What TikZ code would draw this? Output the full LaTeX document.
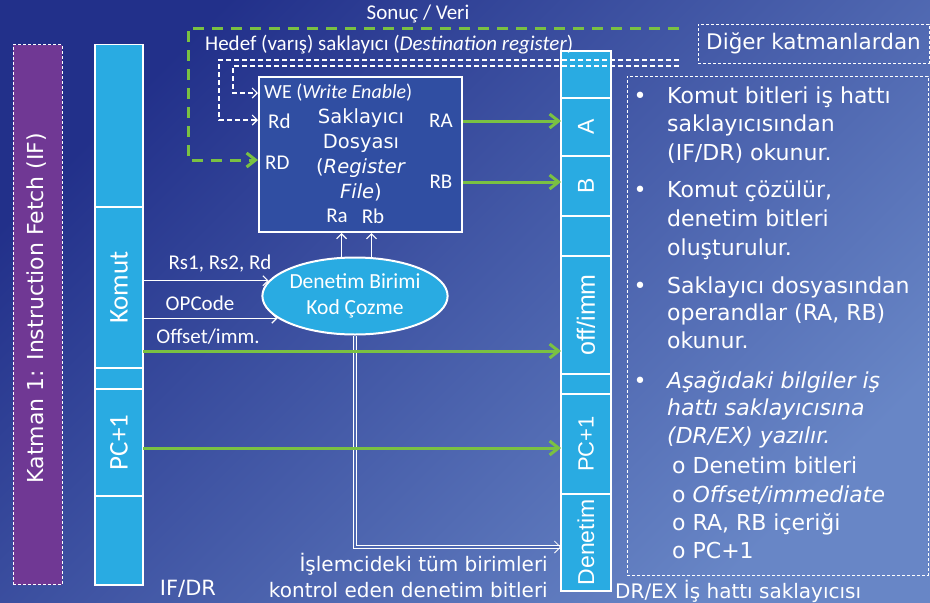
\documentclass[tikz,border=0pt]{standalone}
\usepackage{fontspec}
\setmainfont{Carlito}
\newfontfamily\comic{DejaVu Sans}
\newfontfamily\arialf{Liberation Sans}
\usetikzlibrary{shapes.geometric,arrows.meta,calc}
\definecolor{bgA}{RGB}{34,48,138}
\definecolor{bgB}{RGB}{104,134,198}
\definecolor{bgM}{RGB}{78,104,178}
\definecolor{cyanc}{RGB}{41,171,226}
\definecolor{purp}{RGB}{112,56,148}
\definecolor{grn}{RGB}{122,193,66}
\definecolor{rfill}{RGB}{48,78,162}
\tikzset{
  seg/.style={draw=white, line width=1.4pt, fill=cyanc, minimum width=48pt, inner sep=0pt, outer sep=0pt},
  dseg/.style={seg, minimum width=50pt},
  lbl/.style={text=white, inner sep=0pt, font=\fontsize{21}{25}\selectfont},
  segtxt/.style={text=white, inner sep=0pt, rotate=90, font=\fontsize{27}{30}\selectfont},
  dtxt/.style={text=white, inner sep=0pt, rotate=90, font=\arialf\fontsize{23}{27}\selectfont},
  ctxt/.style={text=white, inner sep=0pt, font=\comic\fontsize{20}{26}\selectfont},
  bul/.style={text=white, inner sep=0pt, anchor=base west, font=\comic\fontsize{22}{28}\selectfont},
  dashbox/.style={draw=white, line width=0.8pt, dash pattern=on 3pt off 2pt},
  garrow/.style={draw=grn, line width=3pt, -{Straight Barb[length=9pt,width=14pt]}},
  gdash/.style={garrow, dash pattern=on 11pt off 8pt},
  warrow/.style={draw=white, line width=1.1pt, -{Straight Barb[length=5pt,width=10pt]}},
  wdash/.style={warrow, dash pattern=on 5pt off 3pt},
  dblarrow/.style={draw=white, line width=0.8pt, double=bgM, double distance=2pt, -{Straight Barb[length=6pt,width=12pt]}}
}
\begin{document}
\begin{tikzpicture}[x=1pt,y=-1pt]
\useasboundingbox (0,0) rectangle (930,603);
\shade[top color=bgA, bottom color=bgB, shading angle=45] (0,0) rectangle (930,603);

% Stage 1 box
\node[dashbox, fill=purp, minimum width=49pt, minimum height=540pt, inner sep=0pt] (ifstage) at (37.5,314.5) {};
\node[text=white, inner sep=0pt, rotate=90, font=\comic\fontsize{22}{26}\selectfont] (ifstagetxt) at (37,308) {Katman 1: Instruction Fetch (IF)};

% IF/DR register
\node[seg, minimum height=162.5pt] (i1) at (119,125.75) {};
\node[seg, minimum height=161pt] (ikomut) at (119,287.5) {};
\node[seg, minimum height=21pt] (i3) at (119,378.5) {};
\node[seg, minimum height=107pt] (ipc) at (119,442.5) {};
\node[seg, minimum height=89pt] (i5) at (119,540.5) {};
\node[segtxt] (tkomut) at (ikomut) {Komut};
\node[segtxt] (tpc) at (ipc) {PC+1};
\node[ctxt, font=\comic\fontsize{21}{25}\selectfont] (ifdrl) at (188,589) {IF/DR};

% DR/EX register
\node[dseg, minimum height=47pt] (d1) at (586,74.5) {};
\node[dseg, minimum height=58pt] (dA) at (586,127) {};
\node[dseg, minimum height=60pt] (dB) at (586,186) {};
\node[dseg, minimum height=40pt] (d4) at (586,236) {};
\node[dseg, minimum height=118pt] (dOff) at (586,315) {};
\node[dseg, minimum height=20pt] (d6) at (586,384) {};
\node[dseg, minimum height=100pt] (dPC) at (586,444) {};
\node[dseg, minimum height=97pt] (dDen) at (586,542.5) {};
\node[dtxt] (tA) at (dA) {A};
\node[dtxt] (tB) at (dB) {B};
\node[dtxt, font=\arialf\fontsize{25}{29}\selectfont] (tOff) at (dOff) {off/imm};
\node[dtxt, font=\arialf\fontsize{22}{26}\selectfont] (tPC) at (dPC) {PC+1};
\node[dtxt] (tDen) at (dDen) {Denetim};
\node[ctxt, anchor=west] (drexl) at (615,591) {DR/EX İş hattı saklayıcısı};

% Register file
\node[draw=white, line width=2pt, fill=rfill, minimum width=203pt, minimum height=155pt, inner sep=0pt] (rf) at (360.5,154.5) {};
\node[lbl, anchor=west, font=\fontsize{20}{24}\selectfont] (we) at (264,93) {WE (\textit{Write Enable})};
\node[lbl, anchor=west] (rdl) at (268,121) {Rd};
\node[lbl, anchor=west] (RDl) at (265,163) {RD};
\node[lbl] (ral) at (441,121) {RA};
\node[lbl] (rbl) at (441,182) {RB};
\node[lbl] (raIn) at (337,216) {Ra};
\node[lbl] (rbIn) at (373,216) {Rb};
\node[ctxt, font=\comic\fontsize{19.5}{25}\selectfont, align=center] (rftxt) at (361,155) {Saklayıcı\\Dosyası\\(\textit{Register}\\\textit{File})};

% top texts
\node[lbl] (sonuc) at (418,14) {Sonuç / Veri};
\node[lbl, anchor=west] (hedef) at (205,45) {Hedef (varış) saklayıcı (\textit{Destination register})};

% dashed feedback lines
\coordinate (gR) at (679,28);
\coordinate (gL) at (188,28);
\coordinate (gIn) at (0,160);
\coordinate (wOR) at (679,60);
\coordinate (wOL) at (219,60);
\coordinate (wOIn) at (0,120);
\coordinate (wIR) at (679,66);
\coordinate (wIL) at (233,66);
\coordinate (wIIn) at (0,93);
\draw[wdash] (wOR) -- (wOL) |- (rf.west |- wOIn);
\draw[wdash] (wIR) -- (wIL) |- (rf.west |- wIIn);
\draw[gdash] (gR) -- (gL) |- (rf.west |- gIn);

% boxes on right
\node[dashbox, minimum width=231pt, minimum height=39pt, inner sep=0pt, text=white, font=\comic\fontsize{21.5}{25}\selectfont] (diger) at (813.5,43.5) {Diğer katmanlardan};
\node[dashbox, minimum width=301pt, minimum height=499pt, inner sep=0pt] (notes) at (777.5,325.5) {};

% control unit
\node[ellipse, draw=white, line width=2pt, fill=cyanc, minimum width=154pt, minimum height=77pt, inner sep=0pt, text=white, align=center, font=\fontsize{21.5}{26}\selectfont] (ell) at (355,296) {Denetim Birimi\\Kod Çozme};

\node[lbl] (rsl) at (220,264) {Rs1, Rs2, Rd};
\node[lbl] (opl) at (200,303) {OPCode};
\node[lbl] (offl) at (208,337) {Offset/imm.};

\draw[warrow] (ikomut.east |- ell.170) -- (ell.170);
\draw[warrow] (ikomut.east |- ell.196) -- (ell.196);
\draw[warrow] (ell.109) -- (ell.109 |- rf.south);
\draw[warrow] (ell.67) -- (ell.67 |- rf.south);

\coordinate (denY) at (0,547);
\draw[dblarrow] (ell.south) |- (dDen.west |- denY);

% green data lines
\coordinate (offY) at (0,351);
\coordinate (pcY) at (0,448);
\draw[garrow] (rf.east |- ral) -- (dA.west |- ral);
\draw[garrow] (rf.east |- rbl) -- (dB.west |- rbl);
\draw[garrow] (ikomut.east |- offY) -- (dOff.west |- offY);
\draw[garrow] (ipc.east |- pcY) -- (dPC.west |- pcY);

\node[ctxt, align=right, anchor=east] (islem) at (548,575) {İşlemcideki tüm birimleri\\kontrol eden denetim bitleri};

% bullet text
\node[bul, anchor=base] (p1) at (640,103) {•};
\node[bul, anchor=base] (p2) at (640,197) {•};
\node[bul, anchor=base] (p3) at (640,293) {•};
\node[bul, anchor=base] (p4) at (640,388) {•};
\node[bul] (b1a) at (667,103) {Komut bitleri iş hattı};
\node[bul] (b1b) at (667,131) {saklayıcısından};
\node[bul] (b1c) at (667,160) {(IF/DR) okunur.};
\node[bul] (b2a) at (667,197) {Komut çözülür,};
\node[bul] (b2b) at (667,226) {denetim bitleri};
\node[bul] (b2c) at (667,255) {oluşturulur.};
\node[bul] (b3a) at (667,293) {Saklayıcı dosyasından};
\node[bul] (b3b) at (667,320) {operandlar (RA, RB)};
\node[bul] (b3c) at (667,348) {okunur.};
\node[bul] (b4a) at (667,388) {\itshape Aşağıdaki bilgiler iş};
\node[bul] (b4b) at (667,415) {\itshape hattı saklayıcısına};
\node[bul] (b4c) at (667,443) {\itshape (DR/EX) yazılır.};
\node[bul] (s1) at (672,473) {o Denetim bitleri};
\node[bul] (s2) at (672,502) {o \itshape Offset/immediate};
\node[bul] (s3) at (672,530) {o RA, RB içeriği};
\node[bul] (s4) at (672,558) {o PC+1};
\end{tikzpicture}
\end{document}
